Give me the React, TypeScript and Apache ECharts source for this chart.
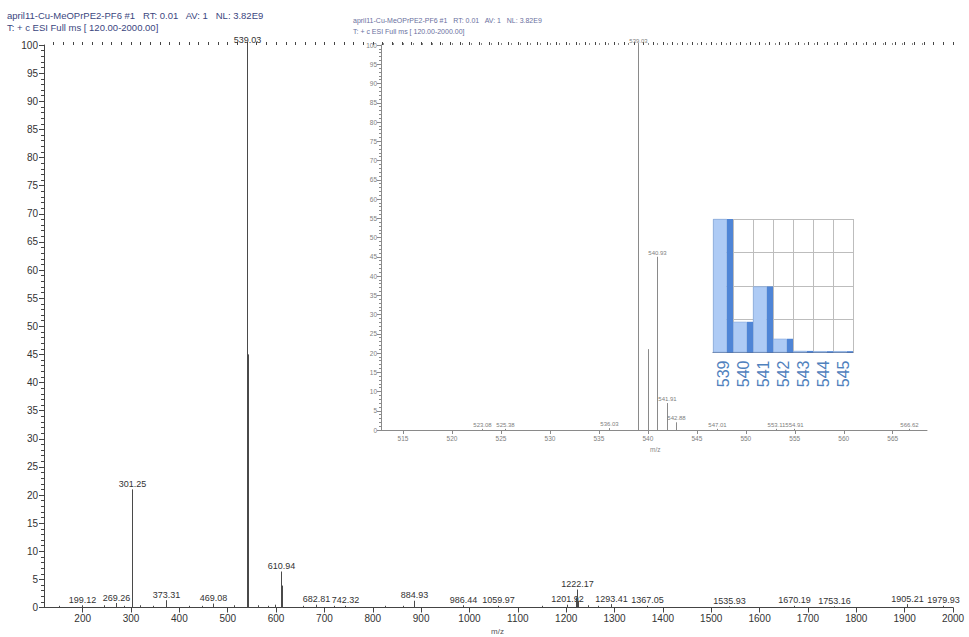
import React, { useEffect, useRef } from 'react';
import * as echarts from 'echarts';

// ---- main spectrum (relative abundance) ----
const mainMz = [150.1, 199.12, 245.1, 269.26, 285.2, 301.25, 302.26, 318.2, 345.1, 373.31, 420.3, 447.2, 469.08, 512.1,
  539.03, 540.04, 540.93, 541.91, 542.88, 563.0, 583.1, 597.0, 610.94, 612.93, 655.0, 682.81, 720.3, 742.32, 825.4, 863.5,
  884.93, 986.44, 1059.97, 1150.2, 1201.92, 1220.17, 1221.17, 1222.17, 1223.17, 1224.17, 1245.6, 1265.3, 1293.41, 1367.05,
  1535.93, 1670.19, 1753.16, 1905.21, 1979.93];
const mainInt = [0.3, 0.4, 0.4, 0.8, 0.3, 21, 9.2, 0.4, 0.3, 1.3, 0.3, 0.3, 0.7, 0.4,
  100, 21, 45, 8, 2.5, 0.4, 0.3, 0.5, 6.4, 3.9, 0.3, 0.5, 0.3, 0.3, 0.3, 0.3,
  1.2, 0.4, 0.3, 0.3, 0.5, 1.2, 1.8, 3.2, 2.2, 1.2, 0.4, 0.3, 0.6, 0.3,
  0.2, 0.3, 0.2, 0.6, 0.3];
const mainLabeled = [199.12, 269.26, 301.25, 373.31, 469.08, 539.03, 610.94, 682.81, 742.32, 884.93, 986.44, 1059.97,
  1201.92, 1222.17, 1293.41, 1367.05, 1535.93, 1670.19, 1753.16, 1905.21, 1979.93];

// ---- inset zoomed spectrum ----
const insetMz = [523.08, 525.38, 536.03, 539.03, 540.04, 540.93, 541.91, 542.88, 547.01, 553.11, 554.91, 566.62];
const insetInt = [0.3, 0.3, 0.5, 100, 21, 45, 7, 2, 0.3, 0.3, 0.3, 0.3];
const insetLabeled = [523.08, 525.38, 536.03, 539.03, 540.93, 541.91, 542.88, 547.01, 553.11, 554.91, 566.62];

// ---- isotope pattern bar chart ----
const isoCategories = ['539', '540', '541', '542', '543', '544', '545'];
const isoValues = [100, 23, 49.5, 10.3, 1.2, 1.0, 1.0];

// ---- tick labels ----
const mainXLabels = [200, 300, 400, 500, 600, 700, 800, 900, 1000, 1100, 1200, 1300, 1400, 1500, 1600, 1700, 1800, 1900, 2000];
const insetXLabels = [515, 520, 525, 530, 535, 540, 545, 550, 555, 560, 565];

const FONT = 'Liberation Sans, Arial, sans-serif';

function range(a: number, b: number, step: number) {
  const out: number[] = [];
  for (let v = a; v <= b + 1e-9; v += step) out.push(Math.round(v * 100) / 100);
  return out;
}

const plain = (v: number) => String(v);

function stickRenderer(color: string, fontSize: number, labelColor: string) {
  return (params: any, api: any) => {
    const x = api.value(0);
    const y = api.value(1);
    const lab = api.value(2);
    const p0 = api.coord([x, 0]);
    const p1 = api.coord([x, y]);
    const px = Math.round(p0[0]) + 0.5;
    const children: any[] = [
      { type: 'line', shape: { x1: px, y1: p0[1], x2: px, y2: p1[1] }, style: { stroke: color, lineWidth: 1 } },
    ];
    if (lab) {
      children.push({
        type: 'text',
        style: { text: x.toFixed(2), x: px, y: p1[1] - 1, align: 'center', verticalAlign: 'bottom', fontSize, fontFamily: FONT, fill: labelColor },
      });
    }
    return { type: 'group', children };
  };
}

export default function App() {
  const ref = useRef<HTMLDivElement>(null);
  useEffect(() => {
    const chart = echarts.init(ref.current!, null, { renderer: 'svg' });
    const mainData = mainMz.map((m, i) => [m, mainInt[i], mainLabeled.includes(m) ? 1 : 0]);
    const insetData = insetMz.map((m, i) => [m, insetInt[i], insetLabeled.includes(m) ? 1 : 0]);
    const mainAxisColor = '#444';
    const insetAxisColor = '#8a8a8a';

    const option: any = {
      animation: false,
      backgroundColor: '#fff',
      grid: [
        { left: 44, top: 45, width: 909, height: 562.5 },
        { left: 381, top: 45, width: 546, height: 385 },
        { left: 713, top: 219, width: 140, height: 133.5 },
      ],
      xAxis: [
        {
          gridIndex: 0, type: 'value', min: 120, max: 2000,
          axisLine: { show: true, lineStyle: { color: mainAxisColor } },
          axisTick: { show: true, length: 5, customValues: mainXLabels, lineStyle: { color: mainAxisColor } },
          axisLabel: { customValues: mainXLabels, formatter: plain, fontSize: 10, fontFamily: FONT, color: '#333', margin: 6 },
          splitLine: { show: false },
        },
        {
          gridIndex: 0, type: 'value', min: 120, max: 2000,
          axisLine: { show: false },
          axisTick: { show: true, length: 3, customValues: range(140, 2000, 20), lineStyle: { color: mainAxisColor } },
          axisLabel: { show: false },
          splitLine: { show: false },
        },
        {
          gridIndex: 1, type: 'value', min: 512.75, max: 568.5,
          axisLine: { show: true, lineStyle: { color: insetAxisColor } },
          axisTick: { show: true, length: 4, customValues: insetXLabels, lineStyle: { color: insetAxisColor } },
          axisLabel: { customValues: insetXLabels, formatter: plain, fontSize: 6.5, fontFamily: FONT, color: '#808080', margin: 5 },
          splitLine: { show: false },
        },
        {
          gridIndex: 1, type: 'value', min: 512.75, max: 568.5,
          axisLine: { show: false },
          axisTick: { show: true, length: 2, customValues: range(513, 568, 1), lineStyle: { color: insetAxisColor } },
          axisLabel: { show: false },
          splitLine: { show: false },
        },
        {
          gridIndex: 2, type: 'category', data: isoCategories, boundaryGap: true,
          axisLine: { show: true, lineStyle: { color: '#5a6a88', width: 1 } },
          axisTick: { show: false },
          axisLabel: { rotate: 90, fontSize: 16, fontFamily: FONT, color: '#4f81bd', margin: 8, interval: 0 },
          splitLine: { show: true, interval: 0, lineStyle: { color: '#bdbdbd' } },
        },
      ],
      yAxis: [
        {
          gridIndex: 0, type: 'value', min: 0, max: 100, interval: 5,
          axisLine: { show: true, lineStyle: { color: mainAxisColor } },
          axisTick: { show: true, length: 5, lineStyle: { color: mainAxisColor } },
          minorTick: { show: true, splitNumber: 5, length: 3, lineStyle: { color: mainAxisColor } },
          axisLabel: { fontSize: 10, fontFamily: FONT, color: '#333', margin: 6 },
          splitLine: { show: false },
        },
        {
          gridIndex: 1, type: 'value', min: 0, max: 100, interval: 5,
          axisLine: { show: true, lineStyle: { color: insetAxisColor } },
          axisTick: { show: true, length: 4, lineStyle: { color: insetAxisColor } },
          minorTick: { show: true, splitNumber: 5, length: 2, lineStyle: { color: insetAxisColor } },
          axisLabel: { fontSize: 6.5, fontFamily: FONT, color: '#808080', margin: 4 },
          splitLine: { show: false },
        },
        {
          gridIndex: 2, type: 'value', min: 0, max: 100, interval: 25,
          axisLine: { show: false },
          axisTick: { show: false },
          axisLabel: { show: false },
          splitLine: { show: true, lineStyle: { color: '#bdbdbd' } },
        },
      ],
      series: [
        {
          type: 'custom', xAxisIndex: 0, yAxisIndex: 0, data: mainData,
          encode: { x: 0, y: 1 },
          renderItem: stickRenderer('#4a4a4a', 9, '#333'),
          z: 3,
        },
        {
          type: 'custom', xAxisIndex: 2, yAxisIndex: 1, data: insetData,
          encode: { x: 0, y: 1 },
          renderItem: stickRenderer('#8a8a8a', 6, '#808080'),
          z: 3,
        },
        {
          type: 'bar', xAxisIndex: 4, yAxisIndex: 2, data: isoValues,
          barWidth: 14, barGap: '0%',
          itemStyle: { color: '#aecbf5', borderColor: '#7aa2dc', borderWidth: 0.6 },
          z: 4,
        },
        {
          type: 'bar', xAxisIndex: 4, yAxisIndex: 2, data: isoValues,
          barWidth: 6, barGap: '0%',
          itemStyle: { color: '#4f85d6' },
          z: 4,
        },
      ],
      graphic: [
        { type: 'text', left: 7, top: 10, style: { text: 'april11-Cu-MeOPrPE2-PF6 #1   RT: 0.01   AV: 1   NL: 3.82E9', fontSize: 9.5, fontFamily: FONT, fill: '#3b4680' } },
        { type: 'text', left: 7, top: 22, style: { text: 'T: + c ESI Full ms [ 120.00-2000.00]', fontSize: 9.5, fontFamily: FONT, fill: '#3b4680' } },
        { type: 'text', left: 353, top: 17, style: { text: 'april11-Cu-MeOPrPE2-PF6 #1   RT: 0.01   AV: 1   NL: 3.82E9', fontSize: 7, fontFamily: FONT, fill: '#6a70a0' } },
        { type: 'text', left: 353, top: 28, style: { text: 'T: + c ESI Full ms [ 120.00-2000.00]', fontSize: 7, fontFamily: FONT, fill: '#6a70a0' } },
        { type: 'text', left: 491, top: 627, style: { text: 'm/z', fontSize: 8, fontFamily: FONT, fill: '#555' } },
        { type: 'text', left: 650, top: 446, style: { text: 'm/z', fontSize: 6.5, fontFamily: FONT, fill: '#888' } },
      ],
    };
    chart.setOption(option);
    return () => chart.dispose();
  }, []);
  return <div ref={ref} style={{ position: 'absolute', left: 0, top: 0, width: 969, height: 637, background: '#fff' }} />;
}
